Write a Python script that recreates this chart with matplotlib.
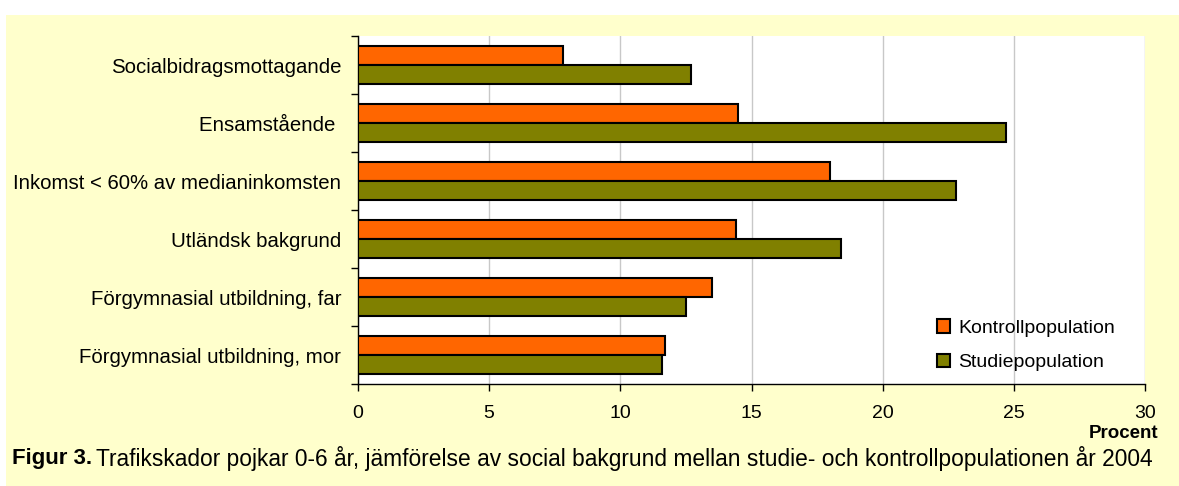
import matplotlib
matplotlib.use('Agg')
import matplotlib.pyplot as plt
import numpy as np
from matplotlib.patches import Rectangle

plt.rcParams['font.family'] = ['Liberation Sans', 'DejaVu Sans']

categories = ['Socialbidragsmottagande', 'Ensamstående ',
              'Inkomst < 60% av medianinkomsten', 'Utländsk bakgrund',
              'Förgymnasial utbildning, far', 'Förgymnasial utbildning, mor']
kontroll = [7.8, 14.5, 18.0, 14.4, 13.5, 11.7]
studie = [12.7, 24.7, 22.8, 18.4, 12.5, 11.6]
xticks = [0, 5, 10, 15, 20, 25, 30]

ORANGE = '#FF6600'
OLIVE = '#808000'
YELLOW = '#FFFFCC'

fig = plt.figure(figsize=(11.79, 4.86), dpi=100)
fig.patch.set_facecolor('white')
fig.patches.append(Rectangle((6 / 1179, 0), 1 - 6 / 1179, 1 - 15 / 486,
                             transform=fig.transFigure, facecolor=YELLOW,
                             edgecolor='none', zorder=-1))

ax = fig.add_axes([358 / 1179, 1 - 384 / 486, 787 / 1179, 348 / 486])
ax.set_facecolor('white')

n = len(categories)
y = np.arange(n)
h = 0.33
ax.barh(y - h / 2, kontroll, height=h, color=ORANGE, edgecolor='black',
        linewidth=1.5, label='Kontrollpopulation', zorder=3)
ax.barh(y + h / 2, studie, height=h, color=OLIVE, edgecolor='black',
        linewidth=1.5, label='Studiepopulation', zorder=3)

ax.set_ylim(n - 0.5, -0.5)
ax.set_xlim(0, 30)
ax.set_yticks(y)
ax.set_yticklabels(categories, fontsize=14.7)
ax.tick_params(axis='y', length=0, pad=12)
ax.set_yticks(np.arange(-0.5, n, 1), minor=True)
ax.tick_params(axis='y', which='minor', length=5, direction='out', width=1)
ax.set_xticks(xticks)
ax.set_xticklabels([str(t) for t in xticks], fontsize=14)
ax.tick_params(axis='x', length=5, direction='out', width=1, pad=10)
ax.grid(axis='x', color='#C8C8C8', linewidth=1, zorder=0)

for side in ['top', 'right']:
    ax.spines[side].set_visible(False)
for side in ['left', 'bottom']:
    ax.spines[side].set_linewidth(1)

ax.legend(loc='lower left', bbox_to_anchor=(0.713, -0.014), frameon=False,
          fontsize=14, handlelength=0.7, handleheight=0.7,
          labelspacing=0.88, handletextpad=0.4)

fig.text(1158 / 1179, 1 - 433 / 486, 'Procent', ha='right', va='center',
         fontsize=13.5, fontweight='bold')
fig.text(12 / 1179, 1 - 458 / 486, 'Figur 3.', ha='left', va='center',
         fontsize=16, fontweight='bold')
fig.text(96 / 1179, 1 - 458 / 486,
         'Trafikskador pojkar 0-6 år, jämförelse av social bakgrund mellan '
         'studie- och kontrollpopulationen år 2004',
         ha='left', va='center', fontsize=16.4)

fig.savefig('out.png', dpi=100, facecolor=fig.get_facecolor())
